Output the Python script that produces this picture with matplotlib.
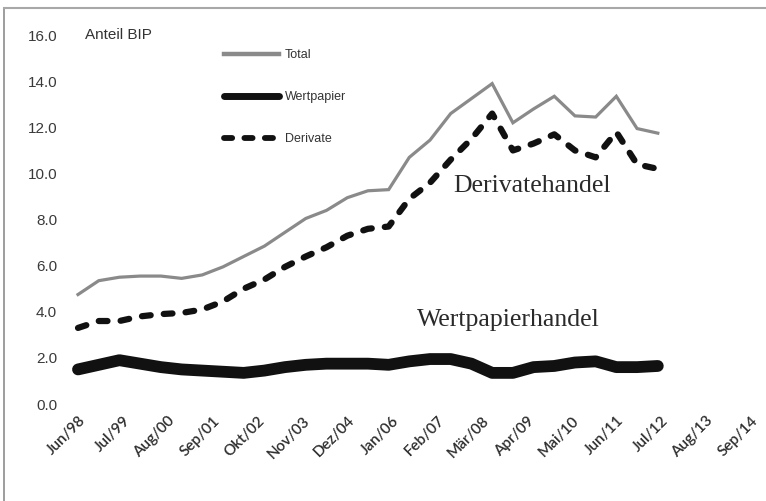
import matplotlib
matplotlib.use("Agg")
import matplotlib.pyplot as plt
from matplotlib.lines import Line2D
import pandas as pd

dates = ["1998-06", "1998-12", "1999-06", "1999-12", "2000-06", "2000-12",
         "2001-06", "2001-12", "2002-06", "2002-12", "2003-06", "2003-12",
         "2004-06", "2004-12", "2005-06", "2005-12", "2006-06", "2006-12",
         "2007-06", "2007-12", "2008-06", "2008-12", "2009-06", "2009-12",
         "2010-06", "2010-12", "2011-06", "2011-12", "2012-06"]

total = [4.75, 5.35, 5.5, 5.55, 5.55, 5.45, 5.6, 5.95, 6.4, 6.85, 7.45, 8.05,
         8.4, 8.95, 9.25, 9.3, 10.7, 11.45, 12.6, 13.25, 13.9, 12.2, 12.8, 13.35,
         12.5, 12.45, 13.35, 11.95, 11.75]

wertpapier = [1.5, 1.7, 1.9, 1.75, 1.6, 1.5, 1.45, 1.4, 1.35, 1.45, 1.6, 1.7,
              1.75, 1.75, 1.75, 1.7, 1.85, 1.95, 1.95, 1.75, 1.35, 1.35, 1.6, 1.65,
              1.8, 1.85, 1.6, 1.6, 1.65]

derivate = [3.3, 3.6, 3.6, 3.8, 3.9, 3.95, 4.1, 4.45, 5.0, 5.4, 5.95, 6.4,
            6.8, 7.3, 7.6, 7.7, 8.9, 9.6, 10.6, 11.5, 12.6, 11.0, 11.3, 11.7,
            11.0, 10.7, 11.8, 10.4, 10.2]

tick_dates = ["1998-06", "1999-07", "2000-08", "2001-09", "2002-10", "2003-11",
              "2004-12", "2006-01", "2007-02", "2008-03", "2009-04", "2010-05",
              "2011-06", "2012-07", "2013-08", "2014-09"]
tick_labels = ["Jun/98", "Jul/99", "Aug/00", "Sep/01", "Okt/02", "Nov/03",
               "Dez/04", "Jan/06", "Feb/07", "Mär/08", "Apr/09", "Mai/10",
               "Jun/11", "Jul/12", "Aug/13", "Sep/14"]
y_ticks = [0, 2, 4, 6, 8, 10, 12, 14, 16]

W, H = 766, 501
fig = plt.figure(figsize=(W / 100, H / 100), dpi=100)
x0, x1 = 78, 751
yb, yt = 404, 35.2
ax = fig.add_axes([x0 / W, 1 - yb / H, (x1 - x0) / W, (yb - yt) / H])

x = pd.to_datetime(dates)
xt = pd.to_datetime(tick_dates)

ax.plot(x, total, color="#8a8a8a", lw=2.3, label="Total", clip_on=False,
        solid_joinstyle="miter")
ax.plot(x, wertpapier, color="#111111", lw=8.5, label="Wertpapier", clip_on=False,
        solid_capstyle="round", solid_joinstyle="round")
ax.plot(x, derivate, color="#111111", lw=4.5, label="Derivate", clip_on=False,
        dashes=(1.4, 2.1), dash_capstyle="round")

ax.set_xlim(xt[0], xt[-1])
ax.set_ylim(0, 16)
ax.set_xticks(xt)
ax.set_xticklabels(tick_labels, rotation=45, ha="right", va="top",
                   rotation_mode="anchor", fontfamily="Lato", fontsize=11,
                   color="#2e2e2e", fontweight="semibold")
ax.set_yticks(y_ticks)
ax.set_yticklabels([f"{v:.1f}" for v in y_ticks], fontfamily="Liberation Sans",
                   fontsize=11, color="#3a3a3a")
ax.tick_params(axis="x", length=0, pad=7)
ax.tick_params(axis="y", length=0, pad=15)
for s in ax.spines.values():
    s.set_visible(False)
ax.patch.set_alpha(0)

fig.text(85 / W, 1 - 35 / H, "Anteil BIP", fontfamily="Liberation Sans",
         fontsize=11, color="#333333", va="center", ha="left")

leg = ax.legend(loc="upper left", bbox_to_anchor=(224 / W, 1 - 49 / H),
                bbox_transform=fig.transFigure, frameon=False,
                prop={"family": "Liberation Sans", "size": 9},
                handlelength=4.4, handletextpad=0.45, labelspacing=2.4,
                borderpad=0, borderaxespad=0)
for t in leg.get_texts():
    t.set_color("#333333")
leg_lines = leg.get_lines()
leg_lines[0].set_linewidth(3.2)
leg_lines[1].set_linewidth(5.0)
leg_lines[2].set_linewidth(4.2)

fig.text(532 / W, 1 - 186 / H, "Derivatehandel", fontfamily="Liberation Serif",
         fontsize=18.5, color="#2a2a2a", ha="center", va="center")
fig.text(508 / W, 1 - 320 / H, "Wertpapierhandel", fontfamily="Liberation Serif",
         fontsize=18.5, color="#2a2a2a", ha="center", va="center")

fig.add_artist(Line2D([4 / W, 4 / W], [0, 1 - 8 / H], transform=fig.transFigure,
                      color="#8c8c8c", lw=1.2))
fig.add_artist(Line2D([4 / W, 1], [1 - 8 / H, 1 - 8 / H], transform=fig.transFigure,
                      color="#a8a8a8", lw=1.5))

fig.savefig("out.png", dpi=100)
